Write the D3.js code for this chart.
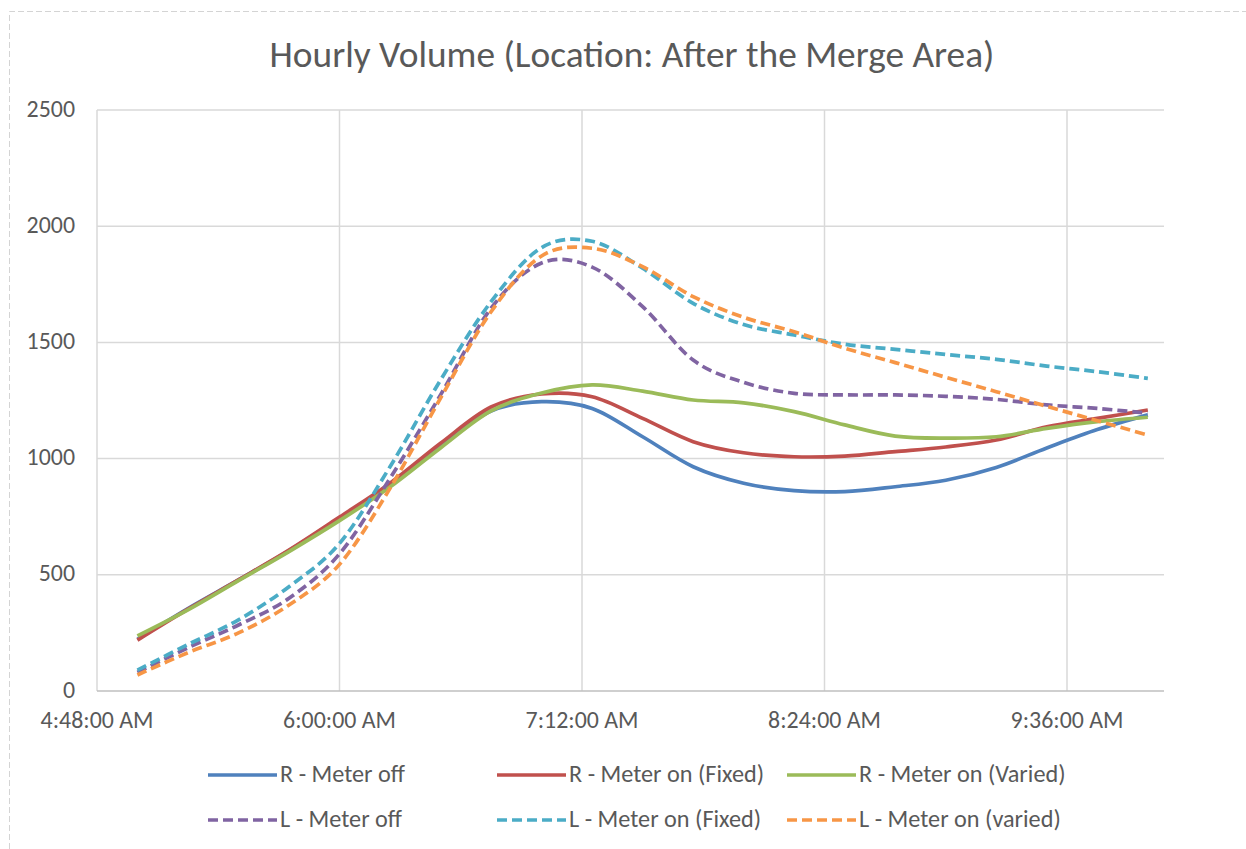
<!DOCTYPE html>
<html><head><meta charset="utf-8">
<script src="https://cdn.jsdelivr.net/npm/d3@7"></script>
<style>
html,body{margin:0;padding:0;background:#fff;}
svg text{font-family:Carlito,"Open Sans","Noto Sans",sans-serif;fill:#595959;}
</style></head>
<body><svg id="chart" width="1246" height="849"></svg>
<script>
// ---------- data ----------
const times = ["5:00","5:15","5:30","5:45","6:00","6:15","6:30","6:45","7:00","7:15","7:30","7:45",
               "8:00","8:15","8:30","8:45","9:00","9:15","9:30","9:45","10:00"];
const rMeterOff    = [222,355,478,604,743,888,1056,1205,1245,1216,1094,965,894,862,858,879,907,962,1046,1125,1188];
const rMeterFixed  = [219,352,478,606,748,894,1066,1222,1278,1266,1173,1073,1025,1008,1011,1030,1050,1080,1137,1173,1209];
const rMeterVaried = [237,349,475,600,733,878,1046,1205,1282,1317,1290,1252,1240,1202,1145,1097,1088,1094,1130,1159,1178];
const lMeterOff    = [80,186,284,399,590,915,1274,1647,1842,1824,1654,1424,1328,1281,1274,1274,1268,1255,1231,1216,1195];
const lMeterFixed  = [90,200,306,449,635,965,1338,1675,1908,1935,1819,1668,1577,1532,1492,1470,1448,1427,1398,1374,1345];
const lMeterVaried = [69,165,250,370,545,872,1260,1632,1872,1905,1826,1697,1608,1546,1475,1413,1350,1288,1225,1163,1101];
const seriesNames  = ["R - Meter off","R - Meter on (Fixed)","R - Meter on (Varied)",
                      "L - Meter off","L - Meter on (Fixed)","L - Meter on (varied)"];
const seriesValues = [rMeterOff,rMeterFixed,rMeterVaried,lMeterOff,lMeterFixed,lMeterVaried];
const seriesColors = ["#4f81bd","#c0504d","#9bbb59","#8064a2","#4bacc6","#f79646"];
const seriesDashed = [false,false,false,true,true,true];
const xTickLabels  = ["4:48","6:00","7:12","8:24","9:36"];
const xDomainTimes = ["4:48","10:04:48"];
const yTicks       = [0,500,1000,1500,2000,2500];
const titleText    = "Hourly Volume (Location: After the Merge Area)";

// ---------- helpers ----------
function toDate(s){const p=s.split(":").map(Number);return new Date(2000,0,1,p[0],p[1],p[2]||0);}
function fit(sel,target){const n=sel.node();const w=n.getComputedTextLength();
  const fs=parseFloat(sel.attr("font-size"));return fs*target/w;}

const svg=d3.select("#chart");
const L=97,R=1164,T=110,B=691;

// outer dashed border
svg.append("path").attr("d","M9.5,849 L9.5,11.5 L1246,11.5")
  .attr("fill","none").attr("stroke","#d4d4d4").attr("stroke-width",1).attr("stroke-dasharray","6,3");

const x=d3.scaleTime().domain(xDomainTimes.map(toDate)).range([L,R]);
const y=d3.scaleLinear().domain([0,2500]).range([B,T]);

// gridlines
const g=svg.append("g");
g.selectAll("line.h").data(yTicks.filter(d=>d>0)).join("line")
  .attr("x1",L).attr("x2",R).attr("y1",d=>y(d)).attr("y2",d=>y(d))
  .attr("stroke","#d9d9d9").attr("stroke-width",1.5);
g.selectAll("line.v").data(xTickLabels.map(toDate)).join("line")
  .attr("x1",d=>x(d)).attr("x2",d=>x(d)).attr("y1",T).attr("y2",B)
  .attr("stroke","#d9d9d9").attr("stroke-width",1.5);
// x axis line
svg.append("line").attr("x1",L).attr("x2",R).attr("y1",B).attr("y2",B)
  .attr("stroke","#bfbfbf").attr("stroke-width",1.5);

// y labels
const fmtY=d3.format("d");
const yl=svg.append("g").selectAll("text").data(yTicks).join("text")
  .attr("x",75).attr("y",d=>y(d)+6.5).attr("text-anchor","end").attr("font-size",18).text(fmtY);
// x labels
const fmtX=d3.timeFormat("%-I:%M:%S %p");
const xl=svg.append("g").selectAll("text").data(xTickLabels.map(toDate)).join("text")
  .attr("x",d=>x(d)).attr("y",728).attr("text-anchor","middle").attr("font-size",18).text(fmtX);
const axFs=fit(d3.select(xl.nodes()[0]),113);
xl.attr("font-size",axFs); yl.attr("font-size",axFs);

// title
const tt=svg.append("text").attr("x",632).attr("y",67).attr("text-anchor","middle")
  .attr("font-size",28).text(titleText);
tt.attr("font-size",fit(tt,725));

// lines
const line=d3.line().x((d,i)=>x(toDate(times[i]))).y(d=>y(d)).curve(d3.curveCatmullRom.alpha(0));
const lg=svg.append("g");
seriesValues.forEach((vals,k)=>{
  lg.append("path").datum(vals).attr("d",line).attr("fill","none")
    .attr("stroke",seriesColors[k]).attr("stroke-width",3.7)
    .attr("stroke-linejoin","round")
    .attr("stroke-dasharray",seriesDashed[k]?"10,5":null);
});

// legend
const legX=[208,497,787], legY=[775,820];
const leg=svg.append("g");
const legTexts=[];
seriesNames.forEach((name,k)=>{
  const cx=legX[k%3], cy=legY[Math.floor(k/3)];
  leg.append("line").attr("x1",cx).attr("x2",cx+69).attr("y1",cy).attr("y2",cy)
    .attr("stroke",seriesColors[k]).attr("stroke-width",3.7)
    .attr("stroke-dasharray",seriesDashed[k]?"10,5":null);
  legTexts.push(leg.append("text").attr("x",cx+72).attr("y",cy+6.5).attr("font-size",18).text(name));
});
const lfs=fit(legTexts[0],125);
legTexts.forEach(t=>t.attr("font-size",lfs));
</script></body></html>
